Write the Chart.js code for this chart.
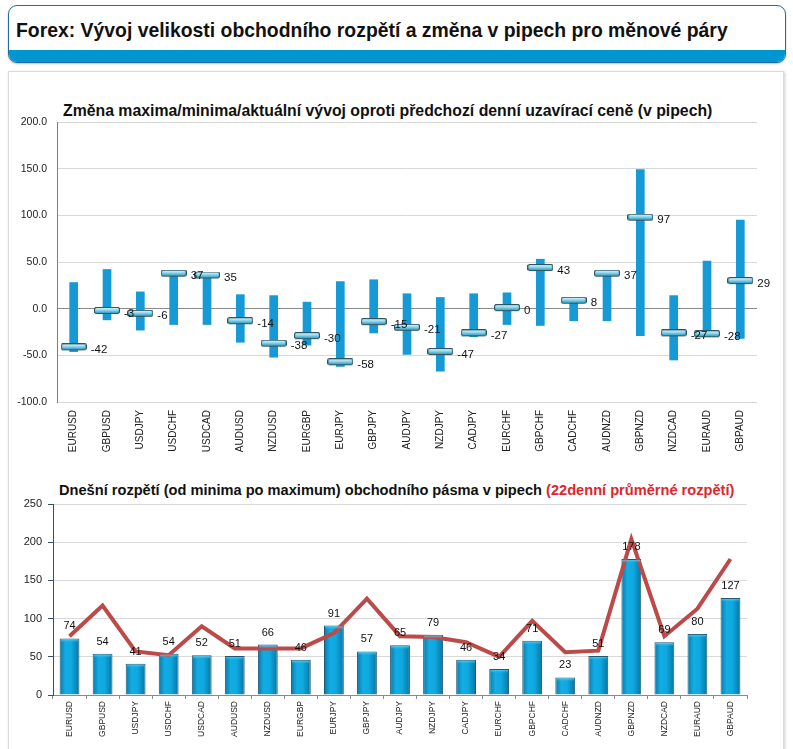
<!DOCTYPE html>
<html><head><meta charset="utf-8">
<script src="https://cdn.jsdelivr.net/npm/chart.js@4.4.0/dist/chart.umd.min.js"></script>
<style>
html,body{margin:0;padding:0;background:#fff;}
body{width:793px;height:749px;overflow:hidden;position:relative;font-family:Arial,"Liberation Sans",sans-serif;}
#hdr{position:absolute;left:8px;top:5px;width:776px;height:56px;border:1.5px solid #1f6ea6;border-radius:9px;overflow:hidden;background:#fff;box-shadow:0 1px 2px rgba(0,0,0,0.25);}
#band{position:absolute;left:0;right:0;bottom:0;height:12px;background:#0096d2;}
#panel{position:absolute;left:8px;top:71px;width:774px;height:700px;border:1px solid #d9d9d9;box-shadow:1px 1px 3px rgba(0,0,0,0.2);background:#fff;}
.ttl{position:absolute;white-space:nowrap;font-weight:bold;color:#111;height:20px;line-height:20px;display:inline-block;}
.red{color:#e0262c;}
canvas{position:absolute;left:0;}
</style></head>
<body>
<div id="hdr"><div id="band"></div></div>
<div id="panel"></div>
<div class="ttl" id="t0" style="left:16px;top:20px;font-size:20px;">Forex: Vývoj velikosti obchodního rozpětí a změna v pipech pro měnové páry</div>
<div class="ttl" id="t1" style="left:63px;top:101px;font-size:15px;">Změna maxima/minima/aktuální vývoj oproti předchozí denní uzavírací ceně (v pipech)</div>
<div class="ttl" id="t2" style="left:59px;top:480px;font-size:15px;">Dnešní rozpětí (od minima po maximum) obchodního pásma v pipech <span class="red">(22denní průměrné rozpětí)</span></div>
<canvas id="c1" width="793" height="370" style="top:100px;width:793px;height:370px;"></canvas>
<canvas id="c2" width="793" height="269" style="top:480px;width:793px;height:269px;"></canvas>
<script>
const categories = ['EURUSD','GBPUSD','USDJPY','USDCHF','USDCAD','AUDUSD','NZDUSD','EURGBP','EURJPY','GBPJPY','AUDJPY','NZDJPY','CADJPY','EURCHF','GBPCHF','CADCHF','AUDNZD','GBPNZD','NZDCAD','EURAUD','GBPAUD'];
const rangeHigh = [28, 42, 18, 37, 35, 15, 14, 7, 29, 31, 16, 12, 16, 17, 53, 10, 38, 149, 14, 51, 95];
const rangeLow = [-46, -12, -23, -17, -17, -36, -52, -39, -62, -26, -49, -67, -30, -17, -18, -13, -13, -29, -55, -29, -32];
const currentChange = [-42, -3, -6, 37, 35, -14, -38, -30, -58, -15, -21, -47, -27, 0, 43, 8, 37, 97, -27, -28, 29];
const spreadToday = [74, 54, 41, 54, 52, 51, 66, 46, 91, 57, 65, 79, 46, 34, 71, 23, 51, 178, 69, 80, 127];
const avgSpread22 = [77, 117, 57, 52, 90, 61, 61, 61, 81, 126, 77, 76, 69, 50, 97, 56, 58, 204, 77, 113, 178];
const topAxis = {min: -100, max: 200, step: 50};
const bottomAxis = {min: 0, max: 250, step: 50};

function fit(id, target){
  const el = document.getElementById(id);
  const w = el.getBoundingClientRect().width;
  const fs = parseFloat(getComputedStyle(el).fontSize);
  el.style.fontSize = (fs * target / w) + 'px';
}
fit('t0', 712); fit('t1', 650); fit('t2', 676);

// marker image for current value
const mk = document.createElement('canvas');
mk.width = 26; mk.height = 9;
(function(){
  const c = mk.getContext('2d');
  const g = c.createLinearGradient(0, 0.5, 0, 6.5);
  g.addColorStop(0, '#e6f7fb'); g.addColorStop(0.45, '#8ed6ec'); g.addColorStop(1, '#2394bd');
  c.beginPath();
  if (c.roundRect) c.roundRect(0.5, 0.5, 25, 6, 2); else c.rect(0.5, 0.5, 25, 6);
  c.fillStyle = g; c.fill();
  c.strokeStyle = '#2f5560'; c.lineWidth = 1.2; c.stroke();
})();

const FONT = 'Arial, "Liberation Sans", sans-serif';

const topLabels = {
  id: 'topLabels',
  afterDatasetsDraw(chart){
    const ctx = chart.ctx, meta = chart.getDatasetMeta(0);
    ctx.save();
    ctx.font = '11.5px ' + FONT; ctx.fillStyle = '#111';
    ctx.textAlign = 'left'; ctx.textBaseline = 'middle';
    meta.data.forEach((p, i) => { ctx.fillText(String(currentChange[i]), p.x + 17, p.y + 2); });
    ctx.restore();
  }
};

new Chart(document.getElementById('c1'), {
  data: {
    labels: categories,
    datasets: [
      {type: 'line', data: currentChange, showLine: false, pointStyle: mk, pointRadius: 3, pointHoverRadius: 3, order: 0, clip: false},
      {type: 'bar', data: categories.map((c, i) => [rangeLow[i], rangeHigh[i]]), backgroundColor: '#169ad6', barThickness: 8, grouped: false, order: 1}
    ]
  },
  options: {
    responsive: false, animation: false, devicePixelRatio: 1,
    layout: {padding: {left: 0, right: 36, top: 22, bottom: 0}},
    plugins: {legend: {display: false}, tooltip: {enabled: false}, title: {display: false}},
    scales: {
      x: {
        offset: true,
        grid: {display: false, drawTicks: false},
        border: {display: false},
        ticks: {minRotation: 90, maxRotation: 90, autoSkip: false, padding: 8, color: '#222', font: {size: 10, family: FONT}},
        afterFit(s){ s.height = 68; }
      },
      y: {
        min: topAxis.min, max: topAxis.max,
        ticks: {stepSize: topAxis.step, padding: 10, color: '#222', font: {size: 10.5, family: FONT}, callback: v => Number(v).toFixed(1)},
        grid: {drawTicks: false, color: c => (c.tick && c.tick.value === 0) ? '#8a8a8a' : '#d9d9d9', lineWidth: 1},
        border: {display: true, color: '#7f7f7f'},
        afterFit(s){ s.width = 57; }
      }
    }
  },
  plugins: [topLabels]
});

function barGradient(c){
  if (c.type !== 'data' || !c.chart.scales || !c.chart.scales.x || !c.chart.chartArea) return '#0aa0d8';
  const sx = c.chart.scales.x;
  const x = sx.getPixelForValue(c.dataIndex);
  const w = sx.width / categories.length * 0.6;
  const g = c.chart.ctx.createLinearGradient(x - w / 2, 0, x + w / 2, 0);
  g.addColorStop(0, '#0a78a6'); g.addColorStop(0.3, '#12ade4'); g.addColorStop(0.6, '#0fa8e0'); g.addColorStop(1, '#0874a0');
  return g;
}

const bottomLabels = {
  id: 'bottomLabels',
  afterDatasetsDraw(chart){
    const ctx = chart.ctx, meta = chart.getDatasetMeta(1);
    ctx.save();
    meta.data.forEach((b) => {
      const w = b.width;
      const g = ctx.createLinearGradient(0, b.y, 0, b.y + 4);
      g.addColorStop(0, '#7fdcf7'); g.addColorStop(1, 'rgba(40,180,230,0)');
      ctx.fillStyle = g;
      ctx.fillRect(b.x - w / 2 + 1, b.y + 1, w - 2, 4);
    });
    ctx.font = '11px ' + FONT; ctx.fillStyle = '#111';
    ctx.textAlign = 'center'; ctx.textBaseline = 'middle';
    meta.data.forEach((b, i) => { ctx.fillText(String(spreadToday[i]), b.x, b.y - 12); });
    ctx.restore();
  }
};

new Chart(document.getElementById('c2'), {
  data: {
    labels: categories,
    datasets: [
      {type: 'line', data: avgSpread22, borderColor: '#bb4a49', borderWidth: 4, pointRadius: 0, pointHoverRadius: 0, fill: false, tension: 0, order: 0},
      {type: 'bar', data: spreadToday, backgroundColor: barGradient, borderColor: '#1f5873', borderWidth: {top: 1, left: 1, right: 1, bottom: 0}, barPercentage: 0.6, categoryPercentage: 1, order: 1}
    ]
  },
  options: {
    responsive: false, animation: false, devicePixelRatio: 1,
    layout: {padding: {left: 0, right: 46, top: 24, bottom: 0}},
    plugins: {legend: {display: false}, tooltip: {enabled: false}, title: {display: false}},
    scales: {
      x: {
        offset: true,
        grid: {display: true, drawOnChartArea: false, drawTicks: true, tickLength: 4, color: '#8a8a8a', offset: true},
        border: {display: true, color: '#8a8a8a'},
        ticks: {minRotation: 90, maxRotation: 90, autoSkip: false, padding: 2, color: '#222', font: {size: 8.5, family: FONT}},
        afterFit(s){ s.height = 54; }
      },
      y: {
        min: bottomAxis.min, max: bottomAxis.max,
        ticks: {stepSize: bottomAxis.step, padding: 6, color: '#222', font: {size: 11, family: FONT}},
        grid: {drawTicks: true, tickLength: 5, tickColor: '#3b4e6b', color: '#d9d9d9'},
        border: {display: true, color: '#3b4e6b'},
        afterFit(s){ s.width = 53; }
      }
    }
  },
  plugins: [bottomLabels]
});
</script>
</body></html>
